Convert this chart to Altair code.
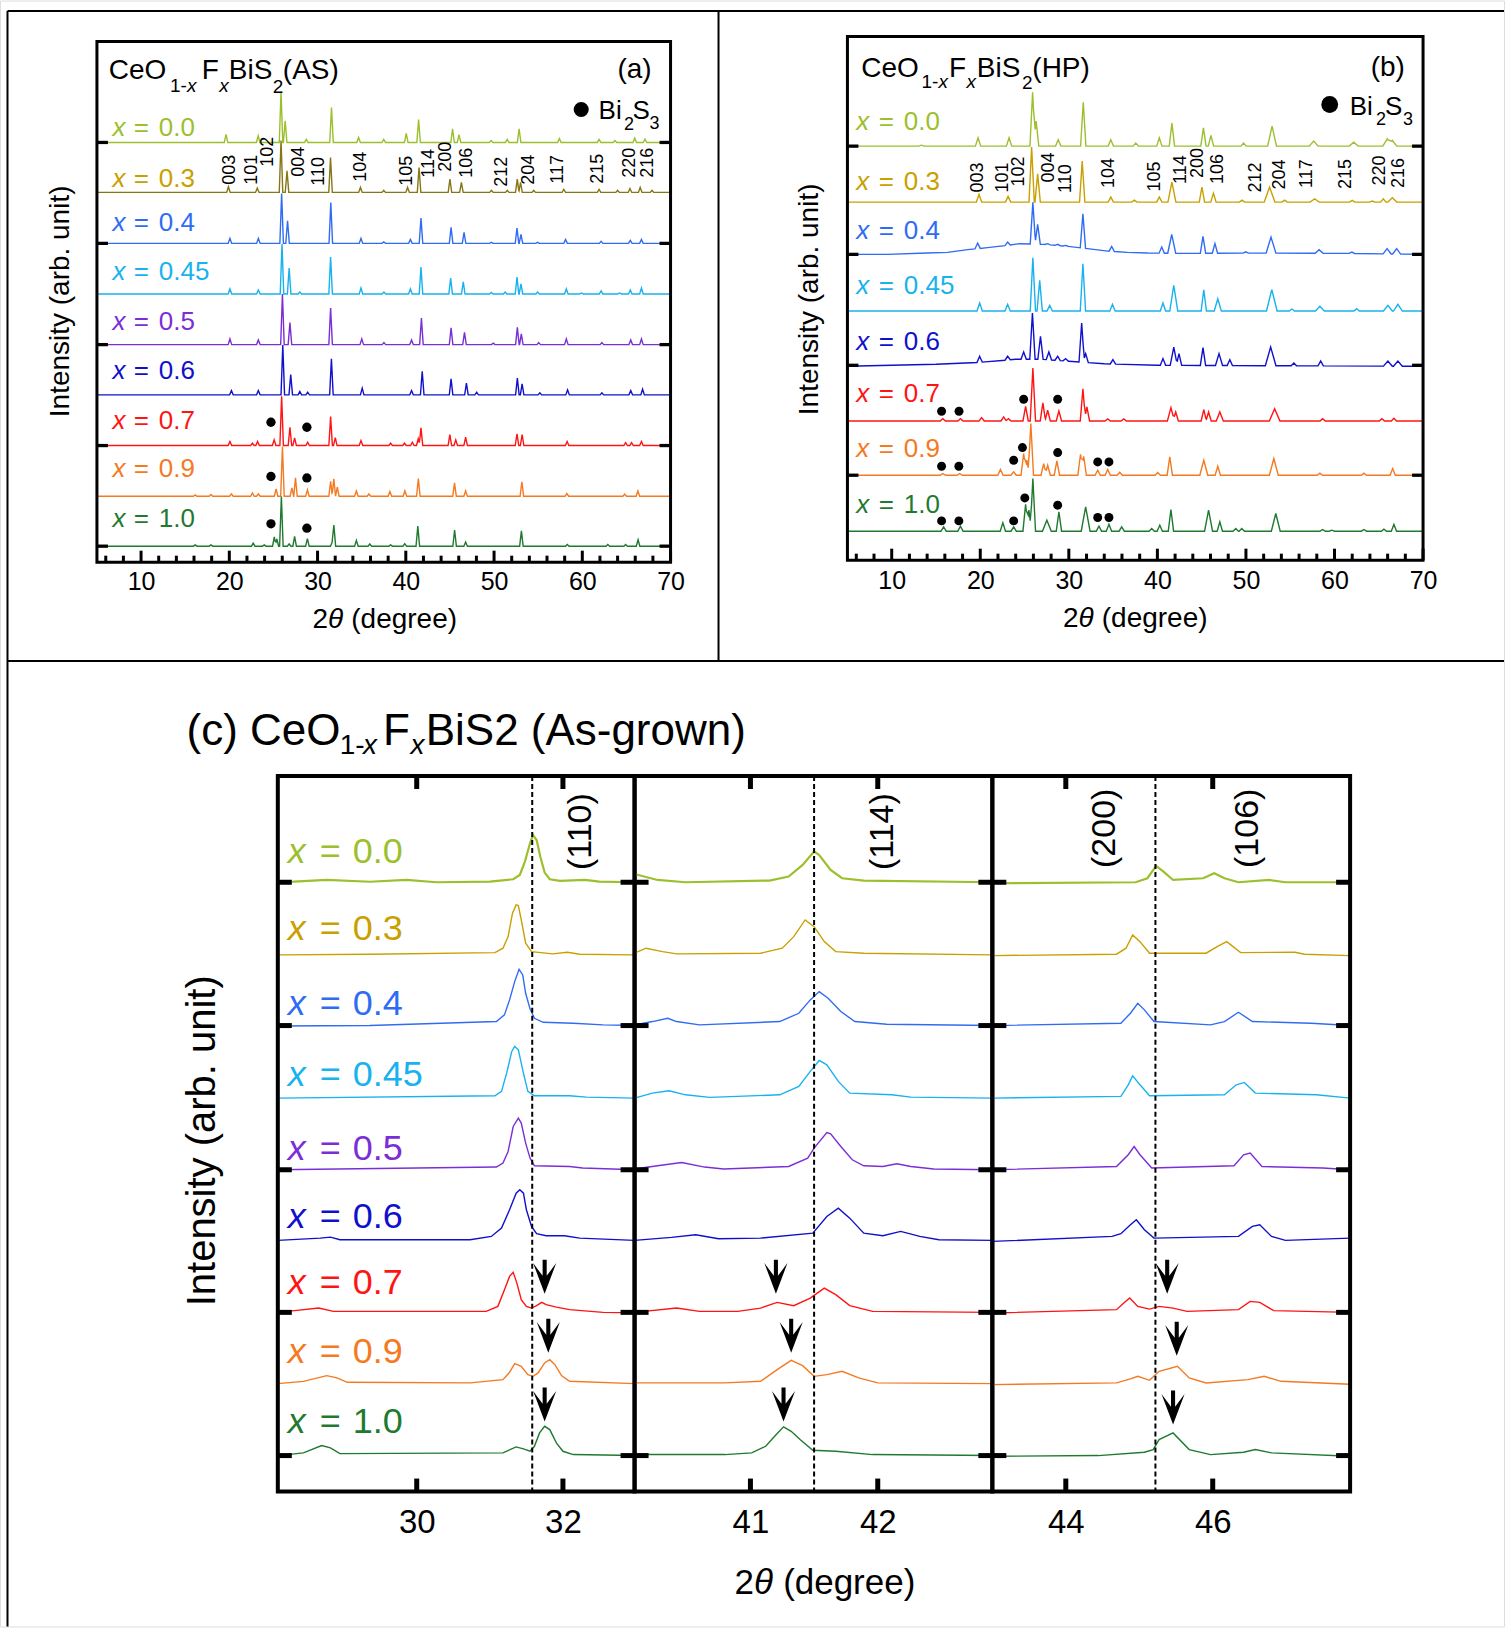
import altair as alt
import numpy as np
import pandas as pd

FONT = "Liberation Sans"
FIG_W, FIG_H = 1505, 1627

# ---------------- compositions and colours ----------------
NAMES = ["0.0", "0.3", "0.4", "0.45", "0.5", "0.6", "0.7", "0.9", "1.0"]
COLOR = {"0.0": "#9CBF2E", "0.3": "#C8A000", "0.4": "#2F6CF3", "0.45": "#18B2EE",
         "0.5": "#7B2ED6", "0.6": "#1010CC", "0.7": "#FF1414", "0.9": "#F47A22",
         "1.0": "#1F7A2F"}
A_LINE_COLOR = dict(COLOR, **{"0.3": "#867614"})

HKL = ["003", "101", "102", "004", "110", "104", "105", "114", "200", "106",
       "212", "204", "117", "215", "220", "216"]

# ---------------- panel (a): CeO1-xFxBiS2 (AS) ----------------
A_BASE = [420, 370, 319, 268.4, 217.7, 167.4, 116.7, 66, 16]
A_LABEL_Y = [426.7, 375, 331.7, 282.4, 232.4, 183.4, 133.4, 85, 35]
A_YTICKS = [420, 319, 217.7, 116.7, 16]
A_PEAKS = {
    "0.0": [(19.63, 8), (23.27, 6.7), (25.86, 51), (26.33, 21.7), (28.72, 3), (31.58, 35),
            (34.65, 5), (37.5, 3), (40.05, 9), (41.45, 23), (45.3, 13.7), (46.03, 7.7),
            (49.67, 2), (51.49, 3), (52.84, 13.7), (57.4, 4), (61.9, 3), (63.7, 2),
            (65.94, 4.3), (67.1, 3.5)],
    "0.3": [(19.9, 5.7), (23.17, 4.3), (25.86, 52), (26.54, 21.7), (31.47, 35), (34.86, 5),
            (37.5, 2), (40.2, 5), (41.5, 25), (45.0, 13.3), (46.3, 10), (49.7, 2), (51.5, 2),
            (52.63, 13.3), (53.0, 10), (54.5, 2), (57.9, 3), (61.9, 3), (64.0, 2), (65.4, 4),
            (66.56, 5), (67.9, 2)],
    "0.4": [(20.07, 5), (23.29, 5), (25.93, 50), (26.6, 22.7), (31.5, 41), (34.92, 5),
            (37.5, 1.5), (40.52, 4), (41.72, 25.4), (45.13, 16), (46.6, 11), (49.69, 1),
            (52.6, 15.4), (53.05, 9), (54.93, 1), (58.1, 4), (62.13, 2), (65.44, 3), (66.7, 4)],
    "0.45": [(20.07, 5), (23.29, 4), (25.97, 50), (26.78, 26), (27.99, 2), (31.48, 37),
             (34.92, 6), (37.52, 2), (40.52, 5), (41.72, 27), (45.08, 16), (46.51, 12),
             (49.69, 1.5), (51.26, 2), (52.6, 17), (53.05, 10), (54.93, 2), (58.19, 5),
             (59.89, 1), (62.13, 3), (64.23, 1), (65.44, 4), (66.7, 6)],
    "0.5": [(20.07, 5.7), (23.29, 4.7), (26.02, 50.7), (26.87, 22), (31.48, 36.7),
            (35.01, 5.7), (37.52, 2), (40.65, 4.7), (41.77, 26.7), (45.13, 16.7),
            (46.65, 12.3), (49.91, 1.5), (52.64, 17.3), (53.09, 10.7), (55.06, 2),
            (58.19, 5.7), (62.22, 2), (65.49, 4.7), (66.7, 5.7)],
    "0.6": [(20.24, 4.3), (23.29, 4.3), (26.06, 50), (26.96, 20.3), (27.99, 3.3),
            (28.88, 2.7), (31.57, 36), (35.06, 6.7), (40.65, 4.3), (41.86, 23.7),
            (45.13, 16), (46.87, 11.7), (48.03, 2.7), (52.64, 16.7), (53.18, 11),
            (55.19, 2), (58.33, 5), (62.22, 2), (65.49, 4.3), (66.83, 5.7)],
    "0.7": [(20.07, 4), (22.62, 2.3), (23.2, 4), (25.08, 5.7), (25.93, 49.3), (26.87, 18.3),
            (27.4, 7.7), (28.88, 3.3), (31.48, 29), (32.01, 8), (34.92, 5), (38.28, 2.3),
            (39.85, 2.3), (40.74, 3.3), (41.41, 6.7), (41.72, 17.7), (44.99, 11),
            (45.66, 5.7), (46.78, 8.3), (52.6, 11.7), (53.18, 11), (58.28, 4), (64.91, 3),
            (65.58, 3), (66.7, 4)],
    "0.9": [(16.13, 1.3), (17.92, 1.7), (20.24, 2.3), (22.62, 3.3), (23.29, 2.3), (25.3, 7.3),
            (26.02, 49.7), (27.09, 8.3), (27.5, 18.5), (28.85, 6.3), (31.48, 15),
            (31.84, 17.3), (32.24, 9), (34.4, 5.2), (35.82, 2.3), (38.2, 4.8), (39.9, 5.5),
            (41.42, 17.7), (45.52, 13.3), (46.78, 5.5), (53.15, 14.5), (58.25, 2.6),
            (64.8, 2.2), (66.3, 5.2)],
    "1.0": [(16.13, 1.3), (17.92, 1.3), (22.71, 3), (23.96, 1.3), (25.1, 9.2), (25.39, 7.3),
            (25.9, 49.8), (26.78, 2.3), (27.4, 9.8), (28.85, 7.5), (31.66, 4), (31.85, 21),
            (34.4, 5.8), (35.92, 2.2), (38.28, 1.3), (39.88, 2.5), (41.36, 20.2),
            (45.53, 16.2), (46.78, 4.2), (53.1, 15.3), (58.3, 1.7), (62.89, 1.7),
            (64.91, 1.7), (66.32, 6.6)],
}
A_BULLETS = {"0.7": [(24.72, 23.3), (28.79, 18.3)],
             "0.9": [(24.72, 19.7), (28.79, 18.3)],
             "1.0": [(24.72, 22.4), (28.79, 18.0)]}
A_HKL_X = [20.1, 22.55, 24.43, 27.9, 30.2, 34.9, 40.1, 42.6, 44.55, 46.95, 50.95, 53.95,
           57.3, 61.8, 65.45, 67.45]
A_HKL_Y = [377.7, 377.7, 395.7, 385.7, 376.7, 380.7, 376.7, 384.7, 390.7, 384.7, 375.7,
           377.7, 378.7, 378.7, 384.7, 384.7]

# ---------------- panel (b): CeO1-xFxBiS2 (HP) ----------------
B_NAMES = ["0.0", "0.3", "0.4", "0.45", "0.6", "0.7", "0.9", "1.0"]
B_BASE = [414.3, 358.3, 306, 249.3, 195, 139.3, 85, 29]
B_LABEL_Y = [430, 370, 321.7, 266.7, 210, 158.3, 103.3, 46.7]
B_YTICKS = [414.3, 306, 195, 85]
B_BG = {
    "0.4": [(5, 0), (9.5, 0), (14, 1.3), (16.3, 2), (18.6, 4.7), (20.8, 6.7), (23.1, 9),
            (24.4, 10.7), (27.2, 10), (29.9, 8), (32.1, 5.7), (34.4, 3.3), (36.6, 2),
            (38.9, 1.3), (43.4, 1), (52.5, 1.3), (61.5, 1), (70, 0)],
    "0.6": [(5, -1), (15, 1), (20, 3), (24, 6), (27, 6), (30, 4), (34, 1.5), (40, 0), (70, -1)],
}
B_PEAKS = {
    "0.0": [(13.35, 1), (19.75, 8.3), (23.25, 8.3), (25.91, 54), (26.31, 25), (28.8, 6.3),
            (31.63, 44), (34.74, 6.3), (37.56, 3), (40.22, 8.3), (41.64, 23), (45.2, 18.3),
            (46.05, 10.7), (49.73, 3), (52.95, 20, 0.5), (57.65, 5, 0.5), (62.17, 4, 0.5),
            (65.96, 7.3, 0.5), (66.53, 5.7, 0.5)],
    "0.3": [(19.86, 7.7), (23.14, 5.7), (25.8, 55), (26.48, 28.3), (31.51, 41), (34.74, 5),
            (37.4, 2), (40.22, 5), (41.64, 20, 0.45), (45.03, 15), (46.33, 9), (49.56, 2),
            (52.67, 15, 0.6), (54.37, 2), (57.76, 3.3, 0.5), (62.0, 1.7), (64.27, 1),
            (65.51, 3.3), (66.53, 4.3, 0.5)],
    "0.4": [(19.7, 11.3), (23.09, 12.3), (25.94, 52), (26.48, 30), (27.61, 10.7),
            (28.74, 10), (29.64, 9), (31.59, 40.7), (34.84, 8), (40.49, 7.3),
            (41.62, 20, 0.45), (45.15, 18), (46.5, 10.7), (49.98, 2.5), (52.83, 17.3, 0.55),
            (58.26, 4.7, 0.45), (61.96, 2.3), (65.94, 5.7, 0.45), (67.02, 5.7, 0.45)],
    "0.45": [(19.93, 8), (23.09, 6.7), (25.94, 53.3), (26.71, 30.7), (27.84, 5.7),
             (31.59, 47.3), (34.93, 6.7), (40.63, 8), (41.85, 25.7, 0.45), (45.24, 21.3),
             (46.82, 12.3, 0.4), (52.92, 21.3, 0.6), (55.18, 2), (58.35, 4.7, 0.5),
             (62.5, 2.3), (66.03, 5.7, 0.5), (67.16, 6.7, 0.5)],
    "0.6": [(19.93, 9), (23.09, 9), (24.9, 13.3), (25.89, 52.3), (26.8, 29), (27.75, 13.3),
            (28.74, 9), (29.64, 6.7), (31.45, 42.3), (31.9, 11.7), (34.98, 5.7),
            (40.63, 6.7), (41.85, 18.3, 0.4), (42.44, 11.7), (45.15, 17.7),
            (46.96, 11.7, 0.4), (48.18, 5.7), (52.79, 18.3, 0.6), (55.41, 2.3),
            (58.44, 4.3), (66.03, 4.3, 0.5), (67.16, 4.3, 0.5)],
    "0.7": [(15.77, 2.3), (17.76, 2.3), (20.15, 3.3), (22.64, 4), (23.18, 2.3), (25.12, 14.7),
            (25.94, 53), (27.07, 18), (27.61, 10.7), (28.88, 10), (31.59, 32.3), (32.04, 14),
            (34.39, 2), (36.2, 2), (41.53, 13.3, 0.4), (42.07, 9), (45.24, 11.3),
            (45.78, 9), (47.05, 9, 0.4), (53.24, 12.3, 0.6), (58.66, 2.3), (65.35, 2.3),
            (66.71, 2.7)],
    "0.9": [(15.77, 1.7), (17.67, 1.7), (22.28, 5.7), (23.77, 3.3), (24.9, 21.7),
            (25.26, 15), (25.71, 51.7), (27.16, 11.7), (27.61, 10), (28.65, 14.3),
            (31.32, 21), (31.68, 19), (33.26, 5), (34.39, 5.7), (35.75, 3), (40.04, 2.7),
            (41.4, 18.3), (45.24, 15, 0.45), (46.82, 9), (53.15, 16.7, 0.5), (58.35, 2),
            (63.32, 2), (66.57, 6.7)],
    "1.0": [(15.86, 4.3), (17.76, 5), (22.55, 8.3), (23.77, 4.3), (25.12, 27), (25.49, 21),
            (25.94, 52.7), (27.52, 11, 0.5), (28.88, 19.3), (31.9, 24.3, 0.5), (33.4, 5),
            (34.53, 7), (35.97, 4.3), (39.36, 2.7), (40.27, 6), (41.53, 21.7),
            (45.78, 21, 0.45), (47.05, 9.3), (48.85, 2.7), (49.53, 2.7), (53.37, 17.7, 0.5),
            (58.66, 1.7), (59.7, 1), (63.32, 1.7), (65.58, 2), (66.71, 6.7)],
}
B_BULLETS = {"0.7": [(15.63, 9.7), (17.6, 9.7), (24.9, 21.7), (28.74, 21.7)],
             "0.9": [(15.63, 9), (17.58, 9), (23.77, 15), (24.76, 27.7), (28.74, 22.7),
                     (33.26, 13.3), (34.53, 13.3)],
             "1.0": [(15.63, 10.3), (17.58, 10.3), (23.77, 10.3), (25.03, 33.3),
                     (28.74, 26), (33.26, 13.7), (34.53, 13.7)]}
B_HKL_X = [19.7, 22.55, 24.4, 27.8, 29.7, 34.55, 39.7, 42.65, 44.6, 46.8, 51.1, 53.9,
           56.9, 61.35, 65.15, 67.25]
B_HKL_Y = [368, 368, 374, 378, 367.5, 372.5, 369, 376.5, 382.5, 376.5, 368, 371, 372.5,
           371.5, 375, 372.5]

# ---------------- panel (c): zoomed as-grown patterns ----------------
C_BASE = [609.7, 537, 466.3, 393.7, 322, 251.3, 179.3, 108, 36]
C_LABEL_Y = [629.3, 552, 477, 406, 332, 263.7, 198, 128.7, 58.7]
C_YTICKS = [609.7, 466.3, 322, 179.3, 36]
C1_DOMAIN = [28.1, 32.98]
C2_DOMAIN = [40.09, 42.9]
C3_DOMAIN = [43.0, 47.87]
C1_TICKS = [30, 32]
C2_TICKS = [41, 42]
C3_TICKS = [44, 46]
C_DASH = [31.58, 41.5, 45.22]
C1 = {
    "0.0": [(28.1, 0.5), (28.32, 0.7), (28.77, 2.3), (29.36, 0.5), (29.86, 2.3), (30.27, 0),
            (31.0, 0.7), (31.32, 3), (31.41, 7.3), (31.48, 20.7), (31.55, 39), (31.59, 47.3),
            (31.64, 42.3), (31.69, 25.7), (31.75, 9.7), (31.82, 3), (31.96, 1.3),
            (32.3, 2.3), (32.5, 0.7), (32.98, 0)],
    "0.3": [(28.1, 0), (29.36, 0.7), (31.07, 2.3), (31.18, 6.7), (31.25, 18.3), (31.31, 41.7),
            (31.36, 50), (31.39, 49.3), (31.43, 35), (31.49, 11.7), (31.57, 3.3), (31.86, 1),
            (32.06, 2.7), (32.23, 0.7), (32.98, 0)],
    "0.4": [(28.1, -0.5), (29.36, 0), (31.09, 4), (31.2, 10.7), (31.27, 25.7), (31.34, 44),
            (31.4, 56.3), (31.45, 50.7), (31.49, 32.3), (31.55, 16.7), (31.61, 7.3),
            (31.73, 3.3), (32.14, 2.3), (32.55, 0.7), (32.98, 0)],
    "0.45": [(28.1, 0), (31.07, 2.3), (31.16, 6.7), (31.23, 25), (31.3, 46.7), (31.34, 51.7),
             (31.39, 48.3), (31.46, 25), (31.52, 6.7), (31.61, 2.3), (32.09, 2.3),
             (32.32, 1), (32.98, 0)],
    "0.5": [(28.1, 0), (31.09, 2.7), (31.18, 6.7), (31.25, 18.3), (31.32, 43.3), (31.39, 51.7),
            (31.43, 46.7), (31.49, 26.7), (31.55, 11.7), (31.61, 4), (32.09, 3.3),
            (32.27, 1.7), (32.98, 0)],
    "0.6": [(28.1, 0), (28.68, 2.3), (28.82, 3.3), (28.95, 0.7), (30.73, 0.7), (31.02, 4),
            (31.16, 12.3), (31.27, 30.7), (31.36, 47.3), (31.41, 50.7), (31.46, 47.3),
            (31.5, 30.7), (31.57, 14), (31.64, 6.7), (31.77, 4.7), (32.02, 4.7),
            (32.23, 2.3), (32.98, 0)],
    "0.7": [(28.1, 0), (28.36, 2), (28.66, 4.3), (28.86, 1), (30.95, 1), (31.11, 6),
            (31.2, 22.7), (31.27, 36), (31.32, 40), (31.37, 29.3), (31.43, 12.7), (31.5, 6),
            (31.57, 4.3), (31.64, 6.7), (31.71, 10), (31.77, 7.7), (31.91, 5.3),
            (32.09, 2.7), (32.55, 0), (32.98, -0.5)],
    "0.9": [(28.1, 0), (28.45, 2.3), (28.77, 8), (28.91, 5.7), (29.05, 1.3), (30.73, 0.7),
            (31.18, 4), (31.27, 11.3), (31.34, 20), (31.43, 17.3), (31.52, 9), (31.59, 7.3),
            (31.66, 10.7), (31.75, 20.7), (31.82, 24), (31.89, 19), (31.98, 8),
            (32.09, 2.3), (32.98, 0)],
    "1.0": [(28.1, 0), (28.45, 2.7), (28.7, 10), (28.82, 7.7), (28.95, 2), (31.18, 2.7),
            (31.36, 8.7), (31.46, 6.7), (31.55, 4.3), (31.61, 9.3), (31.68, 22.7),
            (31.75, 29.3), (31.82, 26), (31.91, 12.7), (32.0, 4.3), (32.14, 1), (32.98, 0)],
}
C2 = {
    "0.0": [(40.09, 8), (40.12, 7.3), (40.27, 2.3), (40.49, 0), (41.15, 1.7), (41.3, 5.7),
            (41.41, 17.3), (41.5, 30.7), (41.54, 27.3), (41.63, 12.3), (41.72, 4),
            (41.89, 1.7), (42.9, 0)],
    "0.3": [(40.09, 1.7), (40.18, 6.7), (40.31, 3.3), (40.42, 1), (41.08, 1.7), (41.25, 6.7),
            (41.34, 18.3), (41.43, 35), (41.5, 28.3), (41.58, 13.3), (41.67, 3.3),
            (41.89, 1.7), (42.9, 0)],
    "0.4": [(40.09, 0.7), (40.23, 4), (40.35, 7.3), (40.42, 4), (40.6, 0.7), (41.23, 4),
            (41.38, 12.3), (41.47, 25.7), (41.54, 34), (41.61, 27.3), (41.71, 14),
            (41.82, 4), (42.07, 1.3), (42.9, 0)],
    "0.45": [(40.09, 0), (40.23, 5), (40.36, 7.3), (40.49, 3.3), (40.68, 0.7), (41.23, 3.3),
             (41.38, 11.7), (41.47, 26.7), (41.54, 37.7), (41.6, 33.3), (41.69, 16.7),
             (41.78, 5), (42.11, 3.3), (42.26, 1), (42.9, 0)],
    "0.5": [(40.09, 0.7), (40.27, 4), (40.46, 7.3), (40.64, 2.7), (40.79, 0.7), (41.3, 3.3),
            (41.45, 11.7), (41.5, 21.7), (41.6, 37.3), (41.63, 36), (41.71, 23.3),
            (41.8, 10), (41.89, 4), (42.04, 3.3), (42.15, 6), (42.26, 3.3), (42.44, 0.7),
            (42.9, 0)],
    "0.6": [(40.09, 0), (40.38, 3), (40.57, 5.7), (40.75, 1.7), (41.08, 2.3), (41.49, 7.3),
            (41.6, 24), (41.69, 32.3), (41.78, 22.3), (41.89, 7.3), (42.04, 4.7),
            (42.18, 9), (42.33, 4), (42.48, 0.7), (42.9, 0)],
    "0.7": [(40.09, 0), (40.42, 4.3), (40.6, 1), (40.9, 1), (41.08, 4.3), (41.21, 10),
            (41.34, 6.7), (41.47, 14.3), (41.58, 24.3), (41.67, 17.7), (41.78, 6.7),
            (41.96, 1), (42.9, 0)],
    "0.9": [(40.09, 0.7), (40.8, 0.7), (41.08, 2.3), (41.21, 14), (41.32, 23.3),
            (41.41, 18), (41.5, 7.3), (41.6, 9), (41.72, 12.3), (41.85, 5.7), (42.0, 0.7),
            (42.9, 0)],
    "1.0": [(40.09, 1), (40.8, 1), (41.01, 2.7), (41.12, 9.3), (41.19, 19.3), (41.26, 28.7),
            (41.32, 24.3), (41.39, 16), (41.49, 5.3), (41.67, 4.3), (41.96, 1), (42.9, 0)],
}
C3 = {
    "0.0": [(43.0, -1), (44.95, 0), (45.11, 4), (45.23, 16.3), (45.33, 10.7), (45.46, 2.3),
            (45.87, 4), (46.02, 9), (46.16, 4), (46.35, 0), (46.77, 2.3), (46.99, 0),
            (47.87, 0)],
    "0.3": [(43.0, -0.7), (44.69, 0.7), (44.82, 6.7), (44.91, 20), (45.01, 13.3),
            (45.14, 1.7), (45.91, 1.7), (46.06, 8.3), (46.19, 13.3), (46.38, 2.3),
            (47.12, 2.7), (47.25, 0.7), (47.87, -0.7)],
    "0.4": [(43.0, 0), (44.75, 2.3), (44.88, 12.3), (44.98, 22.3), (45.07, 15.7), (45.2, 4),
            (45.97, 0.7), (46.16, 4), (46.35, 13.3), (46.54, 4), (47.34, 2.3), (47.87, 0)],
    "0.45": [(43.0, 0), (44.75, 1.7), (44.85, 13.3), (44.91, 22.3), (45.01, 13.3),
             (45.14, 2.3), (46.16, 3.3), (46.32, 13.3), (46.43, 15.7), (46.58, 5),
             (47.41, 3.3), (47.87, 0)],
    "0.5": [(43.0, 0), (44.69, 3.3), (44.85, 15), (44.93, 23.3), (45.01, 15), (45.17, 1.7),
            (46.29, 4), (46.42, 15), (46.51, 16.7), (46.67, 3.3), (47.5, 1.7), (47.87, 0)],
    "0.6": [(43.0, -1), (44.63, 4), (44.75, 6.7), (44.88, 15.7), (44.96, 20.7), (45.07, 10.7),
            (45.2, 2.3), (46.35, 4), (46.54, 14), (46.64, 15.7), (46.8, 4), (46.99, 0),
            (47.87, 2.3)],
    "0.7": [(43.0, -0.7), (44.69, 2.7), (44.79, 9.3), (44.87, 14.3), (44.98, 6), (45.14, 3.3),
            (45.27, 6), (45.46, 4.3), (45.65, 1), (46.35, 2.7), (46.51, 11), (46.64, 10),
            (46.83, 1.7), (47.87, 0)],
    "0.9": [(43.0, -1), (44.69, 0.7), (44.88, 4.7), (44.98, 7.3), (45.14, 3.3), (45.27, 12.3),
            (45.52, 17.3), (45.68, 5.7), (45.91, 0.7), (46.48, 4), (46.7, 7.3), (46.93, 2.3),
            (47.87, -0.7)],
    "1.0": [(43.0, -0.7), (44.44, 0), (45.07, 3.3), (45.19, 6), (45.27, 16), (45.46, 22.7),
            (45.68, 6), (45.97, 1), (46.42, 3.3), (46.58, 6), (46.8, 2.7), (47.87, -0.7)],
}
C1_ARROWS = [(31.75, 215), (31.80, 156), (31.75, 87)]
C2_ARROWS = [(41.20, 215), (41.32, 156), (41.26, 87)]
C3_ARROWS = [(45.38, 215), (45.51, 153), (45.46, 84)]
C1_HKL = [("(110)", 32.25, 622)]
C2_HKL = [("(114)", 42.04, 622)]
C3_HKL = [("(200)", 44.53, 624), ("(106)", 46.48, 624)]

ARROW = "M -0.12 -1 L 0.12 -1 L 0.12 -0.05 L 0.68 -0.8 L 0 1 L -0.68 -0.8 L -0.12 -0.05 Z"


# ---------------- helpers ----------------
def txt(text, x, y, size, italic=False, align="left", baseline="alphabetic", angle=0):
    return alt.Chart().mark_text(
        text=text, font=FONT, fontSize=size, fontStyle="italic" if italic else "normal",
        align=align, baseline=baseline, color="black", angle=angle
    ).encode(x=alt.value(x), y=alt.value(y))


def two_theta(x0, y, size):
    # "2θ (degree)" with an italic theta, laid out piece by piece
    return [txt("2", x0, y, size), txt("θ", x0 + 0.556 * size, y, size, True),
            txt("(degree)", x0 + 1.39 * size, y, size)]


def hline(x1, x2, y, w=2):
    return alt.Chart().mark_rule(color="black", strokeWidth=w).encode(
        x=alt.value(x1), x2=alt.value(x2), y=alt.value(y))


def vline(x, y1, y2, w=2):
    return alt.Chart().mark_rule(color="black", strokeWidth=w).encode(
        x=alt.value(x), y=alt.value(y1), y2=alt.value(y2))


def dot(x, y, size):
    return alt.Chart().mark_point(shape="circle", filled=True, color="black", opacity=1,
                                  size=size).encode(x=alt.value(x), y=alt.value(y))


def scales(xdom, xr, ydom, yr, xaxis=None):
    X = alt.X("x:Q", scale=alt.Scale(domain=xdom, range=xr, nice=False, zero=False),
              axis=xaxis)
    Y = alt.Y("y:Q", scale=alt.Scale(domain=ydom, range=yr, nice=False, zero=False),
              axis=None)
    return X, Y


def peak_lines(names, bases, peaks, bgs, w0, colors):
    rows = []
    for n, b in zip(names, bases):
        bg = bgs.get(n, [(5, 0), (70, 0)])
        bx = [p[0] for p in bg]
        by = [p[1] for p in bg]
        tri = []
        for p in peaks[n]:
            w = p[2] if len(p) > 2 else w0
            tri.append((p[0], p[1] - float(np.interp(p[0], bx, by)), w))
        xs = set(bx)
        for pos, h, w in tri:
            xs.update((pos - w, pos, pos + w))
        for i, x in enumerate(sorted(v for v in xs if 5 <= v <= 70)):
            y = float(np.interp(x, bx, by))
            for pos, h, w in tri:
                d = abs(x - pos)
                if d < w:
                    y += h * (1 - d / w)
            rows.append({"x": x, "y": b + y, "k": n, "o": i, "c": colors[n]})
    return pd.DataFrame(rows)


def label_layers(X, Y, names, lx, ly, size, dx_eq, dx_num):
    ldf = pd.DataFrame({"x": [lx] * len(names), "y": ly, "num": names,
                        "c": [COLOR[n] for n in names]})
    col = alt.Color("c:N", scale=None)
    return [
        alt.Chart(ldf).mark_text(text="x", font=FONT, fontSize=size, fontStyle="italic",
                                 align="left", baseline="alphabetic").encode(x=X, y=Y, color=col),
        alt.Chart(ldf).mark_text(text="=", font=FONT, fontSize=size, align="left",
                                 baseline="alphabetic", dx=dx_eq).encode(x=X, y=Y, color=col),
        alt.Chart(ldf).mark_text(font=FONT, fontSize=size, align="left",
                                 baseline="alphabetic", dx=dx_num).encode(
            x=X, y=Y, text="num:N", color=col),
    ]


def xrd_layers(names, bases, label_y, peaks, bgs, w0, colors, bullets, hkl_x, hkl_y,
               yticks, H, xr, yr, lab_pad, label_x, dx_eq, dx_num, bsize):
    xaxis = alt.Axis(orient="bottom", offset=yr[0] - FIG_H, values=list(range(10, 71, 10)),
                     format="d", labelFont=FONT, labelFontSize=25, labelColor="black",
                     labelPadding=lab_pad, labelBaseline="alphabetic", labelFlush=False,
                     labelOverlap=False, ticks=False, tickSize=0, domain=False, grid=False,
                     title=None)
    XA, Y = scales([5, 70], xr, [0, H], yr, xaxis)
    X, _ = scales([5, 70], xr, [0, H], yr)

    lines = alt.Chart(peak_lines(names, bases, peaks, bgs, w0, colors)).mark_line(
        strokeWidth=1.4).encode(x=XA, y=Y, detail="k:N", order="o:Q",
                                color=alt.Color("c:N", scale=None))
    brow = []
    for n, pts in bullets.items():
        b = bases[names.index(n)]
        for bx, by in pts:
            brow.append({"x": bx, "y": b + by})
    dots = alt.Chart(pd.DataFrame(brow)).mark_point(
        shape="circle", filled=True, color="black", opacity=1, size=bsize).encode(x=X, y=Y)
    hk = alt.Chart(pd.DataFrame({"x": hkl_x, "y": hkl_y, "t": HKL})).mark_text(
        font=FONT, fontSize=18, angle=270, align="left", baseline="middle",
        color="black").encode(x=X, y=Y, text="t:N")

    major = pd.DataFrame({"x": list(range(10, 71, 10))})
    minor = pd.DataFrame({"x": [v for v in range(6, 70, 2) if v % 10 != 0]})
    tmaj = alt.Chart(major).mark_rule(color="black", strokeWidth=3).encode(
        x=X, y=alt.value(yr[0]), y2=alt.value(yr[0] - 11.5))
    tmin = alt.Chart(minor).mark_rule(color="black", strokeWidth=3).encode(
        x=X, y=alt.value(yr[0]), y2=alt.value(yr[0] - 6.5))
    ydf = pd.DataFrame({"y": yticks})
    tyl = alt.Chart(ydf).mark_rule(color="black", strokeWidth=3.3).encode(
        y=Y, x=alt.value(xr[0]), x2=alt.value(xr[0] + 11))
    tyr = alt.Chart(ydf).mark_rule(color="black", strokeWidth=3.3).encode(
        y=Y, x=alt.value(xr[1]), x2=alt.value(xr[1] - 11))
    border = alt.Chart(pd.DataFrame({"x": [5], "x2": [70], "y": [0], "y2": [H]})).mark_rect(
        fillOpacity=0, stroke="black", strokeWidth=3).encode(x=X, x2="x2:Q", y=Y, y2="y2:Q")

    return ([lines, dots, hk] + label_layers(X, Y, names, label_x, label_y, 26, dx_eq, dx_num)
            + [tmaj, tmin, tyl, tyr, border])


C_H = 716
C_YR = [1492, 776]


def c_layers(curves, domain, xr, ticks, dash, arrows, hkl, with_labels):
    xaxis = alt.Axis(orient="bottom", offset=C_YR[0] - FIG_H, values=ticks, format="d",
                     labelFont=FONT, labelFontSize=33, labelColor="black", labelPadding=41.3,
                     labelBaseline="alphabetic", labelFlush=False, labelOverlap=False,
                     ticks=False, tickSize=0, domain=False, grid=False, title=None)
    XA, Y = scales(domain, xr, [0, C_H], C_YR, xaxis)
    X, _ = scales(domain, xr, [0, C_H], C_YR)

    rows = []
    for n, b in zip(NAMES, C_BASE):
        for i, (x, h) in enumerate(curves[n]):
            rows.append({"x": x, "y": b + h, "k": n, "o": i, "c": COLOR[n],
                         "sw": 2.2 if n == "0.0" else 1.4})
    lines = alt.Chart(pd.DataFrame(rows)).mark_line().encode(
        x=XA, y=Y, detail="k:N", order="o:Q", color=alt.Color("c:N", scale=None),
        strokeWidth=alt.StrokeWidth("sw:Q", scale=None))
    dashed = alt.Chart(pd.DataFrame({"x": [dash]})).mark_rule(
        color="black", strokeWidth=2, strokeDash=[5, 3]).encode(
        x=X, y=alt.value(C_YR[1]), y2=alt.value(C_YR[0]))
    tdf = pd.DataFrame({"x": ticks})
    tb = alt.Chart(tdf).mark_rule(color="black", strokeWidth=5).encode(
        x=X, y=alt.value(C_YR[0]), y2=alt.value(C_YR[0] - 13))
    tt = alt.Chart(tdf).mark_rule(color="black", strokeWidth=5).encode(
        x=X, y=alt.value(C_YR[1]), y2=alt.value(C_YR[1] + 13))
    ydf = pd.DataFrame({"y": C_YTICKS})
    tyl = alt.Chart(ydf).mark_rule(color="black", strokeWidth=5).encode(
        y=Y, x=alt.value(xr[0]), x2=alt.value(xr[0] + 14))
    tyr = alt.Chart(ydf).mark_rule(color="black", strokeWidth=5).encode(
        y=Y, x=alt.value(xr[1]), x2=alt.value(xr[1] - 14))
    arr = alt.Chart(pd.DataFrame({"x": [a[0] for a in arrows],
                                  "y": [a[1] for a in arrows]})).mark_point(
        shape=ARROW, filled=True, color="black", opacity=1, size=1156).encode(x=X, y=Y)
    hkc = alt.Chart(pd.DataFrame({"x": [h[1] for h in hkl], "y": [h[2] for h in hkl],
                                  "t": [h[0] for h in hkl]})).mark_text(
        font=FONT, fontSize=34, angle=270, align="left", baseline="middle",
        color="black").encode(x=X, y=Y, text="t:N")
    border = alt.Chart(pd.DataFrame({"x": [domain[0]], "x2": [domain[1]], "y": [0],
                                     "y2": [C_H]})).mark_rect(
        fillOpacity=0, stroke="black", strokeWidth=4).encode(x=X, x2="x2:Q", y=Y, y2="y2:Q")
    layers = [lines, dashed, tb, tt, tyl, tyr, arr, hkc]
    if with_labels:
        layers += label_layers(X, Y, NAMES, 28.237, C_LABEL_Y, 36, 32, 65)
    return layers + [border]


# ---------------- assemble ----------------
layers = []
# panel (a)
layers += xrd_layers(NAMES, A_BASE, A_LABEL_Y, A_PEAKS, {}, 0.2, A_LINE_COLOR, A_BULLETS,
                     A_HKL_X, A_HKL_Y, A_YTICKS, 521, [97, 671], [562, 41], 27,
                     6.75, 21.5, 46.5, 87)
layers += [
    txt("CeO", 108.8, 78.3, 28), txt("1-", 170, 91.7, 19), txt("x", 187, 91.7, 19, True),
    txt("F", 202, 78.3, 28), txt("x", 219.5, 91.7, 19, True), txt("BiS", 229, 78.3, 28),
    txt("2", 273, 93, 19), txt("(AS)", 283, 78.3, 28),
    txt("(a)", 652, 77.5, 28, align="right"),
    dot(581.6, 109, 227),
    txt("Bi", 599, 118.3, 26), txt("2", 624.5, 130, 18), txt("S", 632.8, 118.3, 26),
    txt("3", 650, 129, 18),
    txt("Intensity (arb. unit)", 69, 301, 28, align="center", angle=270),
]
layers += two_theta(312.6, 628.3, 28)
# panel (b)
layers += xrd_layers(B_NAMES, B_BASE, B_LABEL_Y, B_PEAKS, B_BG, 0.3, COLOR, B_BULLETS,
                     B_HKL_X, B_HKL_Y, B_YTICKS, 524, [848, 1424], [560, 36], 28.3,
                     6.0, 22.5, 47.6, 80)
layers += [
    txt("CeO", 861.9, 76.7, 28), txt("1-", 922, 87.3, 19), txt("x", 939, 87.3, 19, True),
    txt("F", 949.6, 76.7, 28), txt("x", 967.2, 87.3, 19, True), txt("BiS", 977.5, 76.7, 28),
    txt("2", 1022.8, 88.3, 19), txt("(HP)", 1033, 76.7, 28),
    txt("(b)", 1405.8, 76, 28, align="right"),
    dot(1330.6, 104, 283),
    txt("Bi", 1350.6, 115, 26), txt("2", 1377, 125, 18), txt("S", 1386, 115, 26),
    txt("3", 1404, 125, 18),
    txt("Intensity (arb. unit)", 819, 299, 28, align="center", angle=270),
]
layers += two_theta(1063.6, 626.7, 28)
# panel (c)
layers += c_layers(C1, C1_DOMAIN, [278, 635], C1_TICKS, C_DASH[0], C1_ARROWS, C1_HKL, True)
layers += c_layers(C2, C2_DOMAIN, [635, 993], C2_TICKS, C_DASH[1], C2_ARROWS, C2_HKL, False)
layers += c_layers(C3, C3_DOMAIN, [993, 1351], C3_TICKS, C_DASH[2], C3_ARROWS, C3_HKL, False)
layers += [
    txt("(c) CeO", 186.7, 745, 44), txt("1-", 340, 754, 28), txt("x", 363.3, 754, 28, True),
    txt("F", 383.3, 745, 44), txt("x", 410.8, 754, 28, True),
    txt("BiS2 (As-grown)", 426, 745, 44),
    txt("Intensity (arb. unit)", 215, 1141, 40, align="center", angle=270),
]
layers += two_theta(735, 1595, 35)
# figure frame
layers += [hline(7.5, 1505, 10.5), vline(7.5, 10.5, FIG_H), vline(719, 10.5, 661),
           hline(7.5, 1505, 661)]

chart = alt.layer(*layers).resolve_scale(x="independent", y="independent").properties(
    width=FIG_W, height=FIG_H, padding=0
).configure_view(stroke="transparent").configure(font=FONT)

chart.save("out.html", embed_options={"renderer": "svg", "actions": False})
